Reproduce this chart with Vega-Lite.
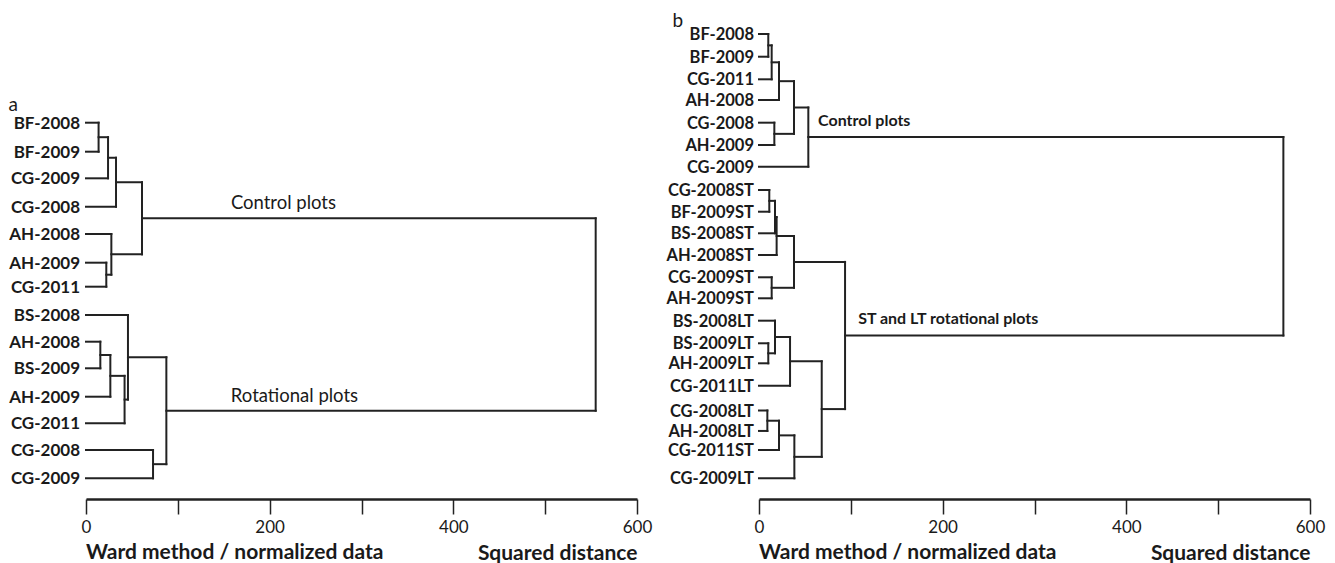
{
  "$schema": "https://vega.github.io/schema/vega-lite/v6.json",
  "padding": {"left": 8, "top": 11, "right": 5, "bottom": 0},
  "background": "white",
  "config": {"view": {"stroke": null}, "axis": {"grid": false}, "font": "Lato"},
  "datasets": {
    "nodes": [
      {"panel": "a", "id": "a_l1", "name": "BF-2008", "h": 0, "pos": 0, "parent": "a1"},
      {"panel": "a", "id": "a_l2", "name": "BF-2009", "h": 0, "pos": 1.062, "parent": "a1"},
      {"panel": "a", "id": "a_l3", "name": "CG-2009", "h": 0, "pos": 2.037, "parent": "a2"},
      {"panel": "a", "id": "a_l4", "name": "CG-2008", "h": 0, "pos": 3.077, "parent": "a3"},
      {"panel": "a", "id": "a_l5", "name": "AH-2008", "h": 0, "pos": 4.077, "parent": "a5"},
      {"panel": "a", "id": "a_l6", "name": "AH-2009", "h": 0, "pos": 5.128, "parent": "a4"},
      {"panel": "a", "id": "a_l7", "name": "CG-2011", "h": 0, "pos": 6.007, "parent": "a4"},
      {"panel": "a", "id": "a_l8", "name": "BS-2008", "h": 0, "pos": 7.044, "parent": "a10"},
      {"panel": "a", "id": "a_l9", "name": "AH-2008", "h": 0, "pos": 8.022, "parent": "a7"},
      {"panel": "a", "id": "a_l10", "name": "BS-2009", "h": 0, "pos": 8.996, "parent": "a7"},
      {"panel": "a", "id": "a_l11", "name": "AH-2009", "h": 0, "pos": 10.037, "parent": "a8"},
      {"panel": "a", "id": "a_l12", "name": "CG-2011", "h": 0, "pos": 11.011, "parent": "a9"},
      {"panel": "a", "id": "a_l13", "name": "CG-2008", "h": 0, "pos": 11.989, "parent": "a11"},
      {"panel": "a", "id": "a_l14", "name": "CG-2009", "h": 0, "pos": 13.026, "parent": "a11"},
      {"panel": "a", "id": "a1", "name": null, "h": 13.7, "pos": 0.531, "parent": "a2"},
      {"panel": "a", "id": "a2", "name": null, "h": 24, "pos": 1.284, "parent": "a3"},
      {"panel": "a", "id": "a3", "name": null, "h": 32.7, "pos": 2.181, "parent": "a6"},
      {"panel": "a", "id": "a4", "name": null, "h": 22.1, "pos": 5.568, "parent": "a5"},
      {"panel": "a", "id": "a5", "name": null, "h": 27.6, "pos": 4.823, "parent": "a6"},
      {"panel": "a", "id": "a6", "name": null, "h": 61, "pos": 3.502, "parent": "a13"},
      {"panel": "a", "id": "a7", "name": null, "h": 15.6, "pos": 8.509, "parent": "a8"},
      {"panel": "a", "id": "a8", "name": null, "h": 26.5, "pos": 9.273, "parent": "a9"},
      {"panel": "a", "id": "a9", "name": null, "h": 42, "pos": 10.142, "parent": "a10"},
      {"panel": "a", "id": "a10", "name": null, "h": 45.7, "pos": 8.593, "parent": "a12"},
      {"panel": "a", "id": "a11", "name": null, "h": 73, "pos": 12.508, "parent": "a12"},
      {"panel": "a", "id": "a12", "name": null, "h": 87.5, "pos": 10.55, "parent": "a13"},
      {"panel": "a", "id": "a13", "name": null, "h": 555, "pos": 7.026, "parent": null},
      {"panel": "b", "id": "b_l1", "name": "BF-2008", "h": 0, "pos": 0, "parent": "b1"},
      {"panel": "b", "id": "b_l2", "name": "BF-2009", "h": 0, "pos": 1.023, "parent": "b1"},
      {"panel": "b", "id": "b_l3", "name": "CG-2011", "h": 0, "pos": 2.041, "parent": "b2"},
      {"panel": "b", "id": "b_l4", "name": "AH-2008", "h": 0, "pos": 2.973, "parent": "b3"},
      {"panel": "b", "id": "b_l5", "name": "CG-2008", "h": 0, "pos": 3.995, "parent": "b4"},
      {"panel": "b", "id": "b_l6", "name": "AH-2009", "h": 0, "pos": 5.0, "parent": "b4"},
      {"panel": "b", "id": "b_l7", "name": "CG-2009", "h": 0, "pos": 5.977, "parent": "b6"},
      {"panel": "b", "id": "b_l8", "name": "CG-2008ST", "h": 0, "pos": 7.027, "parent": "b7"},
      {"panel": "b", "id": "b_l9", "name": "BF-2009ST", "h": 0, "pos": 8.005, "parent": "b7"},
      {"panel": "b", "id": "b_l10", "name": "BS-2008ST", "h": 0, "pos": 8.977, "parent": "b8"},
      {"panel": "b", "id": "b_l11", "name": "AH-2008ST", "h": 0, "pos": 9.955, "parent": "b9"},
      {"panel": "b", "id": "b_l12", "name": "CG-2009ST", "h": 0, "pos": 10.959, "parent": "b10"},
      {"panel": "b", "id": "b_l13", "name": "AH-2009ST", "h": 0, "pos": 11.905, "parent": "b10"},
      {"panel": "b", "id": "b_l14", "name": "BS-2008LT", "h": 0, "pos": 12.914, "parent": "b13"},
      {"panel": "b", "id": "b_l15", "name": "BS-2009LT", "h": 0, "pos": 13.932, "parent": "b12"},
      {"panel": "b", "id": "b_l16", "name": "AH-2009LT", "h": 0, "pos": 14.833, "parent": "b12"},
      {"panel": "b", "id": "b_l17", "name": "CG-2011LT", "h": 0, "pos": 15.842, "parent": "b14"},
      {"panel": "b", "id": "b_l18", "name": "CG-2008LT", "h": 0, "pos": 16.96, "parent": "b15"},
      {"panel": "b", "id": "b_l19", "name": "AH-2008LT", "h": 0, "pos": 17.88, "parent": "b15"},
      {"panel": "b", "id": "b_l20", "name": "CG-2011ST", "h": 0, "pos": 18.739, "parent": "b16"},
      {"panel": "b", "id": "b_l21", "name": "CG-2009LT", "h": 0, "pos": 20.014, "parent": "b17"},
      {"panel": "b", "id": "b1", "name": null, "h": 10.1, "pos": 0.512, "parent": "b2"},
      {"panel": "b", "id": "b2", "name": null, "h": 13.8, "pos": 1.276, "parent": "b3"},
      {"panel": "b", "id": "b3", "name": null, "h": 21.8, "pos": 2.125, "parent": "b5"},
      {"panel": "b", "id": "b4", "name": null, "h": 16.7, "pos": 4.498, "parent": "b5"},
      {"panel": "b", "id": "b5", "name": null, "h": 38.1, "pos": 3.311, "parent": "b6"},
      {"panel": "b", "id": "b6", "name": null, "h": 53.7, "pos": 4.644, "parent": "b20"},
      {"panel": "b", "id": "b7", "name": null, "h": 11.2, "pos": 7.516, "parent": "b8"},
      {"panel": "b", "id": "b8", "name": null, "h": 17.4, "pos": 8.246, "parent": "b9"},
      {"panel": "b", "id": "b9", "name": null, "h": 19.2, "pos": 9.1, "parent": "b11"},
      {"panel": "b", "id": "b10", "name": null, "h": 13.8, "pos": 11.432, "parent": "b11"},
      {"panel": "b", "id": "b11", "name": null, "h": 38.1, "pos": 10.266, "parent": "b19"},
      {"panel": "b", "id": "b12", "name": null, "h": 10.1, "pos": 14.382, "parent": "b13"},
      {"panel": "b", "id": "b13", "name": null, "h": 17.4, "pos": 13.648, "parent": "b14"},
      {"panel": "b", "id": "b14", "name": null, "h": 33.8, "pos": 14.745, "parent": "b18"},
      {"panel": "b", "id": "b15", "name": null, "h": 9.1, "pos": 17.42, "parent": "b16"},
      {"panel": "b", "id": "b16", "name": null, "h": 21.8, "pos": 18.08, "parent": "b17"},
      {"panel": "b", "id": "b17", "name": null, "h": 38.5, "pos": 19.047, "parent": "b18"},
      {"panel": "b", "id": "b18", "name": null, "h": 68.3, "pos": 16.896, "parent": "b19"},
      {"panel": "b", "id": "b19", "name": null, "h": 93.7, "pos": 13.581, "parent": "b20"},
      {"panel": "b", "id": "b20", "name": null, "h": 571, "pos": 9.113, "parent": null}
    ],
    "notes": [
      {"panel": "a", "text": "Control plots", "h": 215, "pos": 3.502},
      {"panel": "a", "text": "Rotational plots", "h": 227, "pos": 10.55},
      {"panel": "b", "text": "Control plots", "h": 64.3, "pos": 4.644},
      {"panel": "b", "text": "ST and LT rotational plots", "h": 108, "pos": 13.581}
    ]
  },
  "bounds": "flush",
  "spacing": 122,
  "hconcat": [
    {
      "width": 551,
      "height": 479,
      "title": {"text": "Ward method / normalized data", "orient": "bottom", "anchor": "start", "frame": "group", "offset": -21, "font": "Lato", "fontSize": 21, "fontWeight": "bold", "color": "#1a1a1a"},
      "layer": [
        {
          "data": {"name": "nodes"},
          "transform": [
            {"filter": "datum.panel == 'a' && datum.parent != null"},
            {"lookup": "parent", "from": {"data": {"name": "nodes"}, "key": "id", "fields": ["h"]}, "as": ["ph"]}
          ],
          "mark": {"type": "rule", "stroke": "#222", "strokeWidth": 2, "strokeCap": "square"},
          "encoding": {
            "x": {"field": "h", "type": "quantitative", "scale": {"domain": [0, 600], "nice": false, "zero": false},
              "axis": {"values": [0, 100, 200, 300, 400, 500, 600], "labelExpr": "datum.value % 200 == 0 ? datum.label : ''", "labelFlush": false, "labelOverlap": false, "domainColor": "#222", "domainWidth": 2.5, "tickColor": "#222", "tickWidth": 1.5, "tickSize": 15, "labelFont": "Lato", "labelFontSize": 17, "labelColor": "#1a1a1a", "labelPadding": 5, "title": "Squared distance", "titleFont": "Lato", "titleFontSize": 21, "titleFontWeight": "bold", "titleColor": "#1a1a1a", "titleAnchor": "end", "titlePadding": 7}},
            "x2": {"field": "ph"},
            "y": {"field": "pos", "type": "quantitative", "scale": {"domain": [-3.762, 13.784], "reverse": true, "nice": false, "zero": false},
              "axis": {"domain": false, "ticks": false, "labels": false, "grid": false, "title": "a", "titleAngle": 0, "titleX": -78, "titleY": 90.5, "titleAlign": "left", "titleBaseline": "alphabetic", "titleFont": "Lato", "titleFontSize": 19, "titleFontWeight": "normal", "titleColor": "#1a1a1a"}}
          }
        },
        {
          "data": {"name": "nodes"},
          "transform": [
            {"filter": "datum.panel == 'a' && datum.parent != null"},
            {"lookup": "parent", "from": {"data": {"name": "nodes"}, "key": "id", "fields": ["h"]}, "as": ["ph"]},
            {"aggregate": [{"op": "min", "field": "pos", "as": "y1"}, {"op": "max", "field": "pos", "as": "y2"}], "groupby": ["parent", "ph"]}
          ],
          "mark": {"type": "rule", "stroke": "#222", "strokeWidth": 2, "strokeCap": "square"},
          "encoding": {
            "x": {"field": "ph", "type": "quantitative"},
            "y": {"field": "y1", "type": "quantitative"},
            "y2": {"field": "y2"}
          }
        },
        {
          "data": {"name": "nodes"},
          "transform": [{"filter": "datum.panel == 'a' && datum.name != null"}],
          "mark": {"type": "text", "align": "right", "baseline": "middle", "dx": -6, "dy": 1, "font": "Lato", "fontSize": 17, "fontWeight": "bold", "fill": "#1a1a1a"},
          "encoding": {
            "x": {"field": "h", "type": "quantitative"},
            "y": {"field": "pos", "type": "quantitative"},
            "text": {"field": "name"}
          }
        },
        {
          "data": {"name": "notes"},
          "transform": [{"filter": "datum.panel == 'a'"}],
          "mark": {"type": "text", "align": "center", "baseline": "middle", "dy": -15, "font": "Lato", "fontSize": 18.5, "fontWeight": "normal", "fill": "#1a1a1a"},
          "encoding": {
            "x": {"field": "h", "type": "quantitative"},
            "y": {"field": "pos", "type": "quantitative"},
            "text": {"field": "text"}
          }
        }
      ]
    },
    {
      "width": 551,
      "height": 479,
      "title": {"text": "Ward method / normalized data", "orient": "bottom", "anchor": "start", "frame": "group", "offset": -21, "font": "Lato", "fontSize": 21, "fontWeight": "bold", "color": "#1a1a1a"},
      "layer": [
        {
          "data": {"name": "nodes"},
          "transform": [
            {"filter": "datum.panel == 'b' && datum.parent != null"},
            {"lookup": "parent", "from": {"data": {"name": "nodes"}, "key": "id", "fields": ["h"]}, "as": ["ph"]}
          ],
          "mark": {"type": "rule", "stroke": "#222", "strokeWidth": 2, "strokeCap": "square"},
          "encoding": {
            "x": {"field": "h", "type": "quantitative", "scale": {"domain": [0, 600], "nice": false, "zero": false},
              "axis": {"values": [0, 100, 200, 300, 400, 500, 600], "labelExpr": "datum.value % 200 == 0 ? datum.label : ''", "labelFlush": false, "labelOverlap": false, "domainColor": "#222", "domainWidth": 2.5, "tickColor": "#222", "tickWidth": 1.5, "tickSize": 15, "labelFont": "Lato", "labelFontSize": 17, "labelColor": "#1a1a1a", "labelPadding": 5, "title": "Squared distance", "titleFont": "Lato", "titleFontSize": 21, "titleFontWeight": "bold", "titleColor": "#1a1a1a", "titleAnchor": "end", "titlePadding": 7}},
            "x2": {"field": "ph"},
            "y": {"field": "pos", "type": "quantitative", "scale": {"domain": [-0.6306, 20.946], "reverse": true, "nice": false, "zero": false},
              "axis": {"domain": false, "ticks": false, "labels": false, "grid": false, "title": "b", "titleAngle": 0, "titleX": -87, "titleY": 6, "titleAlign": "left", "titleBaseline": "alphabetic", "titleFont": "Lato", "titleFontSize": 19, "titleFontWeight": "normal", "titleColor": "#1a1a1a"}}
          }
        },
        {
          "data": {"name": "nodes"},
          "transform": [
            {"filter": "datum.panel == 'b' && datum.parent != null"},
            {"lookup": "parent", "from": {"data": {"name": "nodes"}, "key": "id", "fields": ["h"]}, "as": ["ph"]},
            {"aggregate": [{"op": "min", "field": "pos", "as": "y1"}, {"op": "max", "field": "pos", "as": "y2"}], "groupby": ["parent", "ph"]}
          ],
          "mark": {"type": "rule", "stroke": "#222", "strokeWidth": 2, "strokeCap": "square"},
          "encoding": {
            "x": {"field": "ph", "type": "quantitative"},
            "y": {"field": "y1", "type": "quantitative"},
            "y2": {"field": "y2"}
          }
        },
        {
          "data": {"name": "nodes"},
          "transform": [{"filter": "datum.panel == 'b' && datum.name != null"}],
          "mark": {"type": "text", "align": "right", "baseline": "middle", "dx": -5, "dy": 1, "font": "Lato", "fontSize": 16.5, "fontWeight": "bold", "fill": "#1a1a1a"},
          "encoding": {
            "x": {"field": "h", "type": "quantitative"},
            "y": {"field": "pos", "type": "quantitative"},
            "text": {"field": "name"}
          }
        },
        {
          "data": {"name": "notes"},
          "transform": [{"filter": "datum.panel == 'b'"}],
          "mark": {"type": "text", "align": "left", "baseline": "middle", "dy": -16, "font": "Lato", "fontSize": 16, "fontWeight": "bold", "fill": "#1a1a1a"},
          "encoding": {
            "x": {"field": "h", "type": "quantitative"},
            "y": {"field": "pos", "type": "quantitative"},
            "text": {"field": "text"}
          }
        }
      ]
    }
  ]
}
